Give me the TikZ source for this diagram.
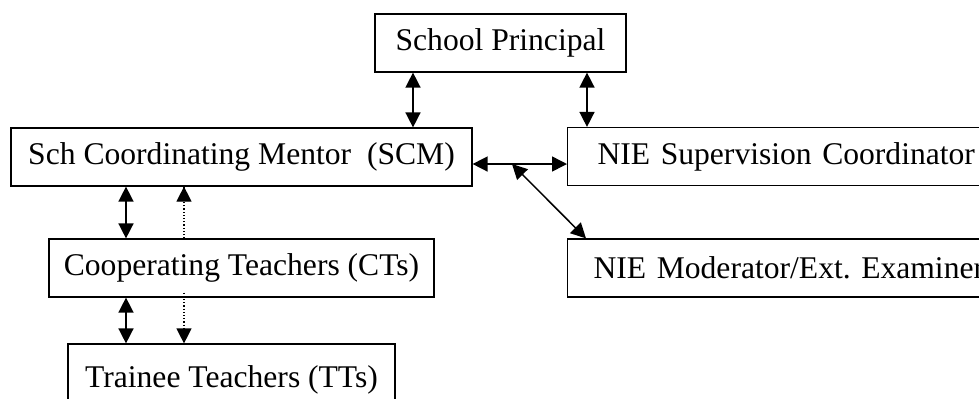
\documentclass[tikz,border=0pt]{standalone}
\usepackage{fontspec}
\setmainfont{Liberation Serif}
\usetikzlibrary{arrows.meta}
\tikzset{
  box/.style={draw, line width=0.6pt, minimum height=29pt, inner sep=0pt, font=\fontsize{15.8pt}{19pt}\selectfont\frenchspacing},
  headtip/.tip={Triangle[width=7.5pt,length=7.5pt]},
  dbl/.style={headtip-headtip, line width=0.75pt},
  dotline/.style={densely dotted, line width=0.6pt},
  dothead/.style={-headtip, solid, line width=0.6pt}
}
\begin{document}
\begin{tikzpicture}[x=0.5pt,y=-0.5pt]
\useasboundingbox (0,0) rectangle (979,398);
\node[box, minimum width=125.5pt] (sp) at (500.5,43) {School Principal};
\node[box, minimum width=230.5pt] (scm) at (241.5,157) {Sch Coordinating Mentor~~(SCM)};
\node[box, minimum width=192.5pt] (ct) at (241.5,268) {Cooperating Teachers (CTs)};
\node[box, minimum width=163.5pt, minimum height=36pt] (tt) at (231.5,380) {Trainee Teachers (TTs)};
\node[box, anchor=west, inner xsep=15pt, text width=210pt, align=left] (sc) at (567,156.5) {NIE Supervision Coordinator};
\node[box, anchor=west, inner xsep=13pt, text width=210pt, align=left] (mod) at (567,268) {NIE Moderator/Ext. Examiner};
\coordinate (xa) at (413,0);
\coordinate (xb) at (587,0);
\coordinate (xc) at (126,0);
\coordinate (xd) at (184,0);
\coordinate (xm) at (586,0);
\coordinate (jn) at (512,164);
\coordinate (d1) at (184,200);
\coordinate (d2) at (184,330);
\draw[dbl] (sp.south -| xa) -- (scm.north -| xa);
\draw[dbl] (sp.south -| xb) -- (sc.north -| xb);
\draw[dbl] (scm.east |- jn) -- (sc.west |- jn);
\draw[dbl] (jn) -- (mod.north -| xm);
\draw[dbl] (scm.south -| xc) -- (ct.north -| xc);
\draw[dotline] (ct.north -| xd) -- (scm.south -| xd);
\draw[dothead] (d1) -- (scm.south -| xd);
\draw[dbl] (ct.south -| xc) -- (tt.north -| xc);
\draw[dotline] ([yshift=2.5pt]ct.south -| xd) -- (tt.north -| xd);
\draw[dothead] (d2) -- (tt.north -| xd);
\end{tikzpicture}
\end{document}
